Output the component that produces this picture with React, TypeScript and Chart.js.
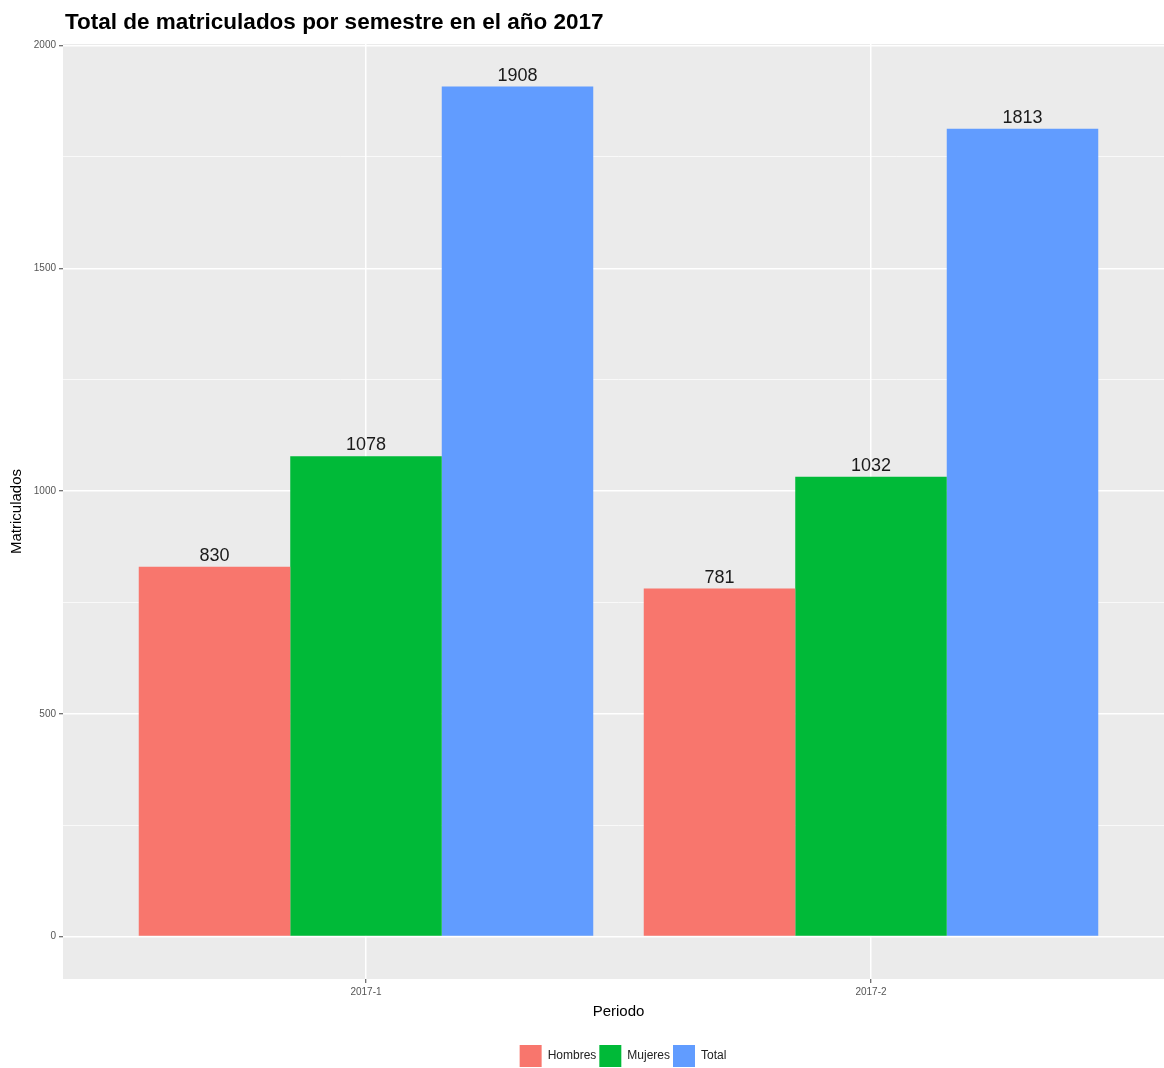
import React, { useEffect, useRef } from 'react';
import { Chart, registerables } from 'chart.js';

Chart.register(...registerables);

const titleText = 'Total de matriculados por semestre en el año 2017';
const periods = ['2017-1', '2017-2'];
const seriesNames = ['Hombres', 'Mujeres', 'Total'];
const hombres = [830, 781];
const mujeres = [1078, 1032];
const total = [1908, 1813];
const yTicks = [0, 250, 500, 750, 1000, 1250, 1500, 1750, 2000];
const yMajor = [0, 500, 1000, 1500, 2000];
const colors = ['#F8766D', '#00BA38', '#619CFF'];

const FONT = '"Liberation Sans", Arial, sans-serif';

export default function App() {
  const ref = useRef<HTMLCanvasElement | null>(null);

  useEffect(() => {
    if (!ref.current) return;
    const seriesValues = [hombres, mujeres, total];
    const maxV = Math.max(...total);
    const pad = maxV * 0.05;

    const panelBg = {
      id: 'panelBg',
      beforeDraw(chart: any) {
        const { ctx, chartArea: a } = chart;
        ctx.save();
        ctx.fillStyle = '#EBEBEB';
        ctx.fillRect(a.left, a.top, a.right - a.left, a.bottom - a.top);
        ctx.restore();
      },
    };

    const titlePlugin = {
      id: 'titlePlugin',
      afterDraw(chart: any) {
        const { ctx } = chart;
        ctx.save();
        ctx.font = `bold 22.5px ${FONT}`;
        ctx.fillStyle = '#000';
        ctx.textAlign = 'left';
        ctx.textBaseline = 'alphabetic';
        ctx.fillText(titleText, 65, 29);
        ctx.restore();
      },
    };

    const valueLabels = {
      id: 'valueLabels',
      afterDatasetsDraw(chart: any) {
        const { ctx } = chart;
        ctx.save();
        ctx.font = `18px ${FONT}`;
        ctx.fillStyle = '#1a1a1a';
        ctx.textAlign = 'center';
        ctx.textBaseline = 'alphabetic';
        chart.data.datasets.forEach((ds: any, di: number) => {
          const meta = chart.getDatasetMeta(di);
          meta.data.forEach((el: any, i: number) => {
            ctx.fillText(String(ds.data[i].y), el.x, el.y - 6);
          });
        });
        ctx.restore();
      },
    };

    const legendShift = {
      id: 'legendShift',
      afterLayout(chart: any) {
        const lg = chart.legend;
        if (lg) {
          lg.left += 36;
          lg.right += 36;
        }
      },
    };

    const chart = new Chart(ref.current, {
      type: 'bar',
      data: {
        datasets: seriesNames.map((name, si) => ({
          label: name,
          data: seriesValues[si].map((v, i) => ({ x: i + 1, y: v })),
          backgroundColor: colors[si],
          borderWidth: 0,
          categoryPercentage: 0.9,
          barPercentage: 1.0,
        })),
      },
      options: {
        responsive: false,
        animation: false,
        layout: { padding: { top: 44, left: 0, right: 0, bottom: 0 } },
        plugins: {
          title: { display: false },
          tooltip: { enabled: false },
          legend: {
            display: true,
            position: 'bottom',
            align: 'center',
            labels: {
              boxWidth: 22,
              boxHeight: 22,
              padding: 3,
              color: '#222',
              font: { family: FONT, size: 12 },
            },
          },
        },
        scales: {
          x: {
            type: 'linear',
            min: 0.4,
            max: periods.length + 0.6,
            offset: false,
            afterBuildTicks(scale: any) {
              scale.ticks = periods.map((_, i) => ({ value: i + 1 }));
            },
            afterFit(scale: any) {
              scale.height = 63;
            },
            ticks: {
              autoSkip: false,
              maxRotation: 0,
              padding: 3,
              color: '#555',
              font: { family: FONT, size: 10 },
              callback: (v: any) => periods[Number(v) - 1] ?? '',
            },
            grid: {
              offset: false,
              color: '#FFFFFF',
              lineWidth: 1.5,
              drawTicks: true,
              tickLength: 4,
              tickColor: '#444',
              tickWidth: 1,
            },
            border: { display: false },
            title: {
              display: true,
              text: 'Periodo',
              color: '#000',
              font: { family: FONT, size: 15 },
              padding: { top: 0, bottom: 21 },
            },
          },
          y: {
            type: 'linear',
            min: -pad,
            max: maxV + pad,
            afterBuildTicks(scale: any) {
              scale.ticks = yTicks.map((v) => ({ value: v }));
            },
            afterFit(scale: any) {
              scale.width = 63;
            },
            ticks: {
              autoSkip: false,
              padding: 3,
              color: '#555',
              font: { family: FONT, size: 10 },
              callback: (v: any) => (yMajor.includes(Number(v)) ? String(v) : ''),
            },
            grid: {
              color: '#FFFFFF',
              lineWidth: (c: any) => (yMajor.includes(c.tick?.value) ? 1.5 : 0.7),
              drawTicks: true,
              tickLength: 4,
              tickColor: (c: any) => (yMajor.includes(c.tick?.value) ? '#444' : 'rgba(0,0,0,0)'),
              tickWidth: 1,
            },
            border: { display: false },
            title: {
              display: true,
              text: 'Matriculados',
              color: '#000',
              font: { family: FONT, size: 15 },
              padding: { top: 8, bottom: 0 },
            },
          },
        },
      },
      plugins: [panelBg, titlePlugin, valueLabels, legendShift],
    } as any);

    return () => chart.destroy();
  }, []);

  return (
    <div
      style={{
        position: 'fixed',
        left: 0,
        top: 0,
        width: 1164,
        height: 1068,
        overflow: 'hidden',
        background: '#fff',
      }}
    >
      <canvas
        ref={ref}
        width={1174}
        height={1077}
        style={{ display: 'block', width: 1174, height: 1077 }}
      />
    </div>
  );
}
